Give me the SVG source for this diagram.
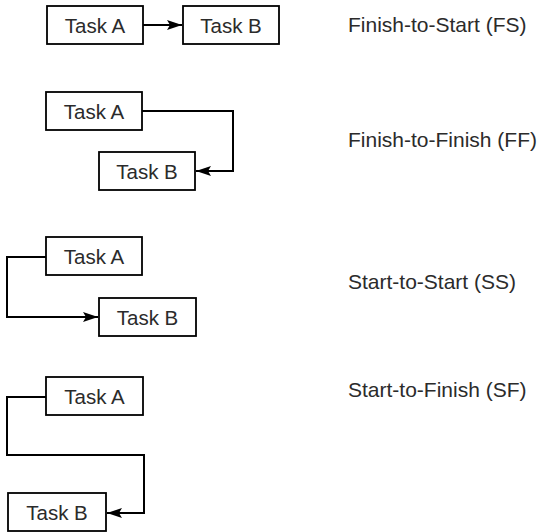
<svg xmlns="http://www.w3.org/2000/svg" width="542" height="532" viewBox="0 0 542 532">
  <style>
    .box { fill: #ffffff; stroke: #000000; stroke-width: 1.8; }
    .task { font-family: "Liberation Sans", Arial, sans-serif; font-size: 20.5px; fill: #2b2b2b; text-anchor: middle; }
    .label { font-family: "Liberation Sans", Arial, sans-serif; font-size: 21px; fill: #2b2b2b; }
    .link { fill: none; stroke: #000000; stroke-width: 2; marker-end: url(#arrow); }
  </style>
  <defs>
    <marker id="arrow" markerUnits="userSpaceOnUse" markerWidth="18" markerHeight="12" viewBox="-16 -6 17 12" refX="0" refY="0" orient="auto">
      <path d="M0,0 L-15,-5 L-12,0 L-15,5 Z" fill="#000000"/>
    </marker>
  </defs>
  <rect width="542" height="532" fill="#ffffff"/>

  <!-- dependency connectors -->
  <g id="connectors">
    <path class="link" d="M143,25 L182,25"/>
    <path class="link" d="M142,111 L233,111 L233,171 L196,171"/>
    <path class="link" d="M46,257 L7,257 L7,317 L98,317"/>
    <path class="link" d="M46,397 L7,397 L7,455 L144,455 L144,513 L107,513"/>
  </g>

  <!-- Finish-to-Start -->
  <g id="fs-task-a">
    <rect class="box" x="47" y="6" width="96" height="38"/>
    <text class="task" x="95" y="32.5">Task A</text>
  </g>
  <g id="fs-task-b">
    <rect class="box" x="183" y="6" width="96" height="38"/>
    <text class="task" x="231" y="32.5">Task B</text>
  </g>

  <!-- Finish-to-Finish -->
  <g id="ff-task-a">
    <rect class="box" x="46" y="92" width="96" height="38"/>
    <text class="task" x="94" y="118.5">Task A</text>
  </g>
  <g id="ff-task-b">
    <rect class="box" x="99" y="152" width="96" height="38"/>
    <text class="task" x="147" y="178.5">Task B</text>
  </g>

  <!-- Start-to-Start -->
  <g id="ss-task-a">
    <rect class="box" x="46" y="237" width="96" height="38"/>
    <text class="task" x="94" y="263.5">Task A</text>
  </g>
  <g id="ss-task-b">
    <rect class="box" x="99" y="298" width="97" height="38"/>
    <text class="task" x="147.5" y="324.5">Task B</text>
  </g>

  <!-- Start-to-Finish -->
  <g id="sf-task-a">
    <rect class="box" x="46" y="377" width="97" height="38"/>
    <text class="task" x="94.5" y="403.5">Task A</text>
  </g>
  <g id="sf-task-b">
    <rect class="box" x="8" y="493" width="98" height="38"/>
    <text class="task" x="57" y="519.5">Task B</text>
  </g>

  <!-- relationship names -->
  <g id="labels">
    <text class="label" x="348" y="32">Finish-to-Start (FS)</text>
    <text class="label" x="348" y="147">Finish-to-Finish (FF)</text>
    <text class="label" x="348" y="289">Start-to-Start (SS)</text>
    <text class="label" x="348" y="397">Start-to-Finish (SF)</text>
  </g>
</svg>
